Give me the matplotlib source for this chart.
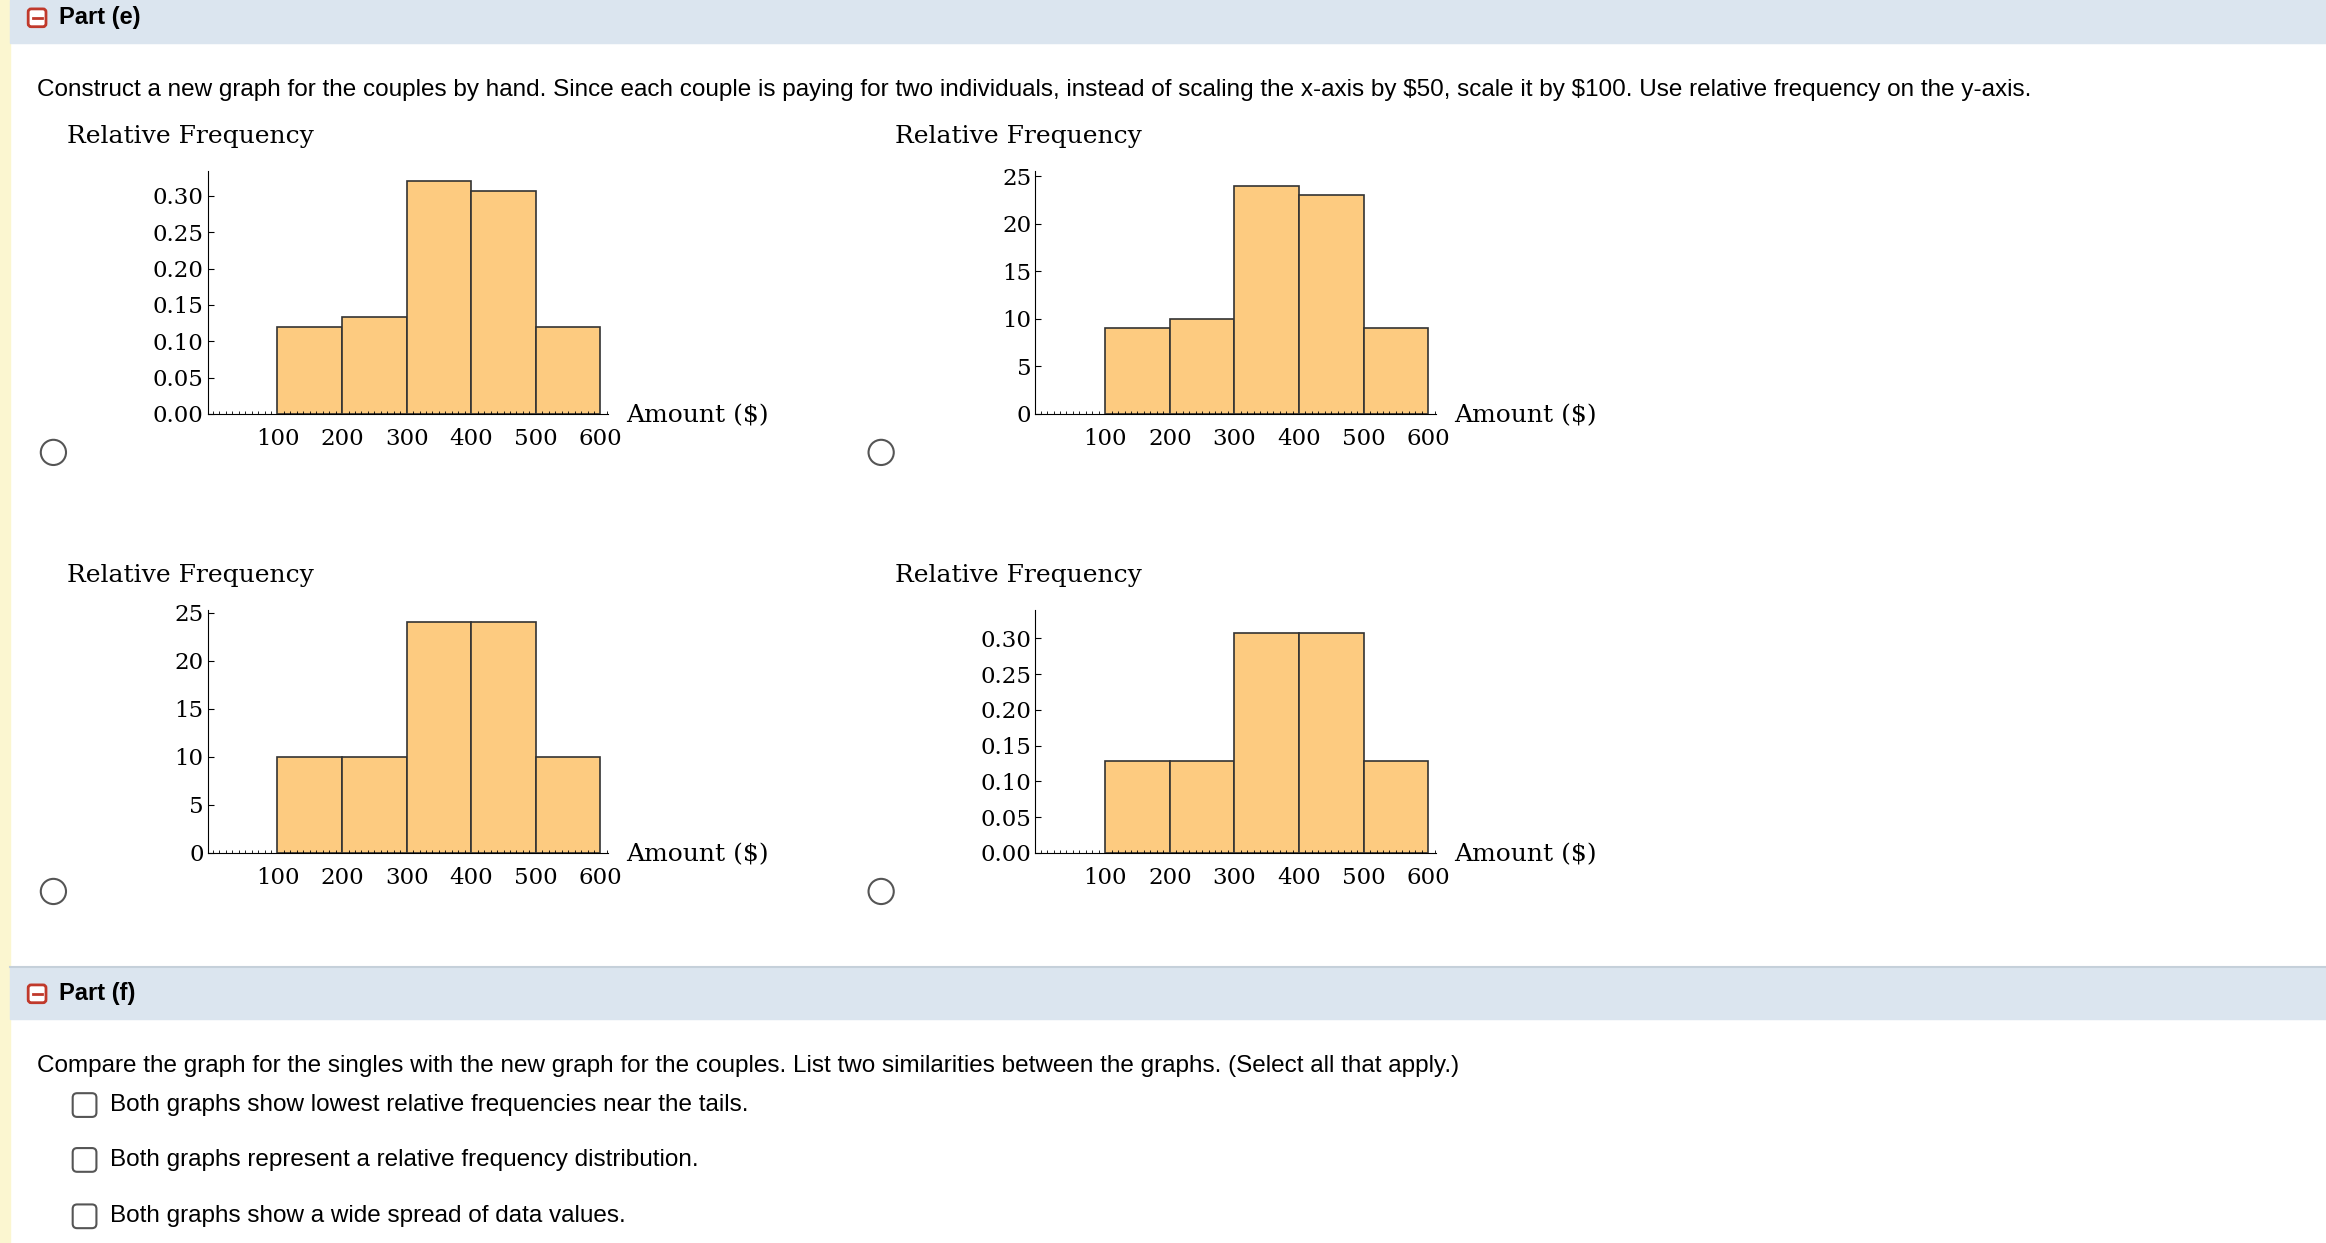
import matplotlib
matplotlib.use("Agg")
import matplotlib.pyplot as plt
from matplotlib.patches import Rectangle, Circle, FancyBboxPatch
import numpy as np

W, H = 1568, 838
bin_edges = [100, 200, 300, 400, 500, 600]
x_ticks = [100, 200, 300, 400, 500, 600]
rel_a = [0.12, 0.133, 0.32, 0.307, 0.12]
cnt_b = [9, 10, 24, 23, 9]
cnt_c = [10, 10, 24, 24, 10]
rel_d = [0.128, 0.128, 0.308, 0.308, 0.128]
rel_ticks = [0.00, 0.05, 0.10, 0.15, 0.20, 0.25, 0.30]
cnt_ticks = [0, 5, 10, 15, 20, 25]

fig = plt.figure(figsize=(23.26, 12.43), dpi=100)
bg = fig.add_axes([0, 0, 1, 1])
bg.set_xlim(0, W); bg.set_ylim(H, 0); bg.axis("off")

sans = "Liberation Sans"
serif = "DejaVu Serif"
bg.add_patch(Rectangle((0, 0), 7, H, color="#fbf6d0"))
bg.add_patch(Rectangle((7, 0), W, 29, color="#dbe5ef"))
bg.add_patch(Rectangle((7, 652), W, 35, color="#dbe5ef"))
bg.plot([7, W], [652, 652], color="#c5d0da", lw=1.5)
for yy, lab in [(12, "Part (e)"), (670, "Part (f)")]:
    bg.add_patch(FancyBboxPatch((19, yy - 6), 12, 12, boxstyle="round,pad=0,rounding_size=2",
                                fc="white", ec="#c0392b", lw=2))
    bg.plot([22, 28], [yy, yy], color="#c0392b", lw=2)
    bg.text(40, yy, lab, fontsize=17, fontweight="bold", family=sans, va="center")
bg.text(25, 61, "Construct a new graph for the couples by hand. Since each couple is paying for two individuals, instead of scaling the x-axis by \\$50, scale it by \\$100. Use relative frequency on the y-axis.",
        fontsize=17.5, family=sans, va="center")
bg.text(25, 719, "Compare the graph for the singles with the new graph for the couples. List two similarities between the graphs. (Select all that apply.)",
        fontsize=17.5, family=sans, va="center")
for yy, t in [(745, "Both graphs show lowest relative frequencies near the tails."),
              (782, "Both graphs represent a relative frequency distribution."),
              (820, "Both graphs show a wide spread of data values.")]:
    bg.add_patch(FancyBboxPatch((49, yy - 8), 16, 16, boxstyle="round,pad=0,rounding_size=3",
                                fc="white", ec="#555555", lw=1.5))
    bg.text(74, yy, t, fontsize=17.5, family=sans, va="center")

panels = [(140, 115, 279, rel_a, 0.335, rel_ticks, "%.2f"),
          (698, 115, 279, cnt_b, 25.6, cnt_ticks, "%d"),
          (140, 411, 575, cnt_c, 25.3, cnt_ticks, "%d"),
          (698, 411, 575, rel_d, 0.34, rel_ticks, "%.2f")]
for x0, ytop, ybot, vals, ymax, yt, fmt in panels:
    ax = fig.add_axes([x0 / W, 1 - ybot / H, (410 - 140) / W, (ybot - ytop) / H])
    ax.bar(bin_edges[:-1], vals, width=100, align="edge", color="#fdcb80", edgecolor="#333333", lw=1.2)
    ax.set_xlim(-8, 612); ax.set_ylim(0, ymax)
    ax.set_xticks(x_ticks); ax.set_xticklabels([str(v) for v in x_ticks])
    ax.set_xticks(np.arange(0, 611, 10), minor=True)
    ax.set_yticks(yt); ax.set_yticklabels([fmt % v for v in yt])
    for s in ["top", "right"]:
        ax.spines[s].set_visible(False)
    ax.tick_params(axis="x", which="major", length=0, pad=10, labelsize=16.5)
    ax.tick_params(axis="x", which="minor", length=2, direction="in")
    ax.tick_params(axis="y", length=4, direction="in", pad=3, labelsize=16.5)
    for l in ax.get_xticklabels() + ax.get_yticklabels():
        l.set_family(serif)
    ax.patch.set_alpha(0)
    xl = x0 - 95
    bg.text(xl, ytop - 23, "Relative Frequency", fontsize=18, family=serif, va="center")
    bg.text(x0 + 282, ybot + 1, "Amount (\\$)", fontsize=18, family=serif, va="center")
    bg.add_patch(Circle((x0 - 104, ybot + 26), 8.5, fc="white", ec="#555555", lw=1.5))

fig.savefig("out.png", dpi=100)
